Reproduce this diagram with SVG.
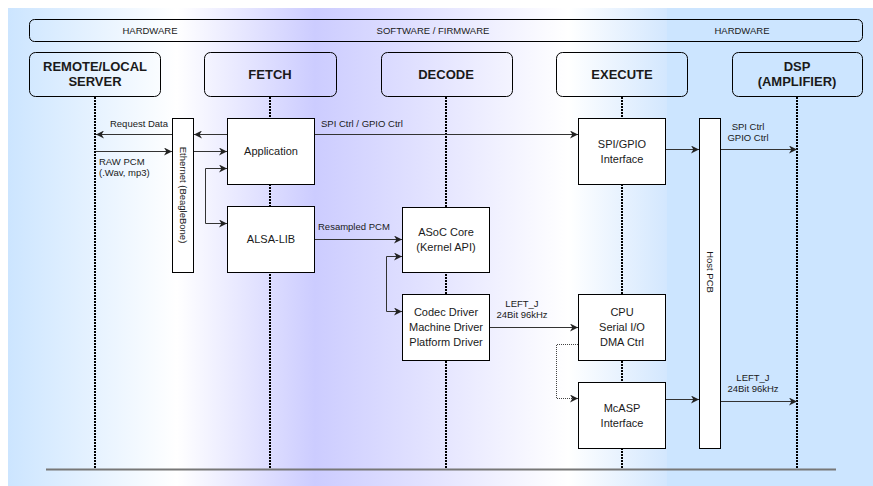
<svg xmlns="http://www.w3.org/2000/svg" width="873" height="486" viewBox="0 0 873 486">
<style>
.hdr{fill:none;stroke:#000;stroke-width:1}
.box{fill:#fff;stroke:#000;stroke-width:1}
.life{stroke:#000;stroke-width:2;stroke-dasharray:2 1;fill:none}
.ln{stroke:#333;stroke-width:1;fill:none}
.dot{stroke:#444;stroke-width:1;stroke-dasharray:1 1;fill:none}
text{font-family:"Liberation Sans",Arial,sans-serif;fill:#1a1a1a;text-anchor:middle}
.t13{font-size:13px;font-weight:bold}
.t11{font-size:11px}
.t95{font-size:9.5px}
.l{text-anchor:start}
</style>
<defs>
<linearGradient id="g1" x1="0" y1="0" x2="1" y2="0">
<stop offset="0" stop-color="#cce5ff"/>
<stop offset="0.55" stop-color="#ffffff"/>
<stop offset="1" stop-color="#ccccff"/>
</linearGradient>
<linearGradient id="g2" x1="0" y1="0" x2="1" y2="0">
<stop offset="0" stop-color="#ccccff"/>
<stop offset="0.72" stop-color="#ffffff"/>
<stop offset="1" stop-color="#d3e7fe"/>
</linearGradient>
<marker id="ar" viewBox="0 0 10 10" refX="10" refY="5" markerWidth="9" markerHeight="8" markerUnits="userSpaceOnUse" orient="auto-start-reverse">
<path d="M0,0 L10,5 L0,10 L3,5 z" fill="#222"/>
</marker>
</defs>
<g id="background">
<rect x="8" y="8" width="307" height="478" fill="url(#g1)"/>
<rect x="315" y="8" width="352" height="478" fill="url(#g2)"/>
<rect x="667" y="8" width="206" height="478" fill="#cce5ff"/>
</g>
<g id="topbar">
<rect class="hdr" x="29.5" y="19.5" width="833" height="22" rx="5"/>
<text class="t95" x="150" y="34">HARDWARE</text>
<text class="t95" x="433" y="34">SOFTWARE / FIRMWARE</text>
<text class="t95" x="742" y="34">HARDWARE</text>
</g>
<g id="lifelines">
<line class="life" x1="95" y1="97" x2="95" y2="468"/>
<line class="life" x1="270" y1="97" x2="270" y2="468"/>
<line class="life" x1="446" y1="97" x2="446" y2="468"/>
<line class="life" x1="622" y1="97" x2="622" y2="468"/>
<line class="life" x1="797" y1="97" x2="797" y2="468"/>
<line x1="46" y1="469.5" x2="836" y2="469.5" stroke="#777" stroke-width="2"/>
</g>
<g id="hdr-server">
<rect class="hdr" x="29.5" y="52.5" width="131" height="44" rx="6"/>
<text class="t13" x="95" y="71">REMOTE/LOCAL</text>
<text class="t13" x="95" y="86">SERVER</text>
</g>
<g id="hdr-fetch">
<rect class="hdr" x="204.5" y="52.5" width="132" height="44" rx="6"/>
<text class="t13" x="270" y="79">FETCH</text>
</g>
<g id="hdr-decode">
<rect class="hdr" x="381.5" y="52.5" width="131" height="44" rx="6"/>
<text class="t13" x="446" y="79">DECODE</text>
</g>
<g id="hdr-execute">
<rect class="hdr" x="556.5" y="52.5" width="131" height="44" rx="6"/>
<text class="t13" x="622" y="79">EXECUTE</text>
</g>
<g id="hdr-dsp">
<rect class="hdr" x="732.5" y="52.5" width="130" height="44" rx="6"/>
<text class="t13" x="797" y="71">DSP</text>
<text class="t13" x="797" y="86">(AMPLIFIER)</text>
</g>
<g id="ethernet">
<rect class="box" x="172.5" y="118.5" width="21" height="154"/>
<text class="t95" transform="translate(180,195) rotate(90)">Ethernet (BeagleBone)</text>
</g>
<g id="application">
<rect class="box" x="227.5" y="118.5" width="87" height="66"/>
<text class="t11" x="271" y="155">Application</text>
</g>
<g id="alsa-lib">
<rect class="box" x="227.5" y="206.5" width="87" height="66"/>
<text class="t11" x="271" y="243">ALSA-LIB</text>
</g>
<g id="asoc-core">
<rect class="box" x="402.5" y="207.5" width="87" height="65"/>
<text class="t11" x="446" y="236">ASoC Core</text>
<text class="t11" x="446" y="251">(Kernel API)</text>
</g>
<g id="drivers">
<rect class="box" x="402.5" y="294.5" width="87" height="66"/>
<text class="t11" x="446" y="316">Codec Driver</text>
<text class="t11" x="446" y="331">Machine Driver</text>
<text class="t11" x="446" y="346">Platform Driver</text>
</g>
<g id="spi-gpio">
<rect class="box" x="578.5" y="118.5" width="87" height="66"/>
<text class="t11" x="622" y="148">SPI/GPIO</text>
<text class="t11" x="622" y="163">Interface</text>
</g>
<g id="cpu">
<rect class="box" x="578.5" y="294.5" width="87" height="66"/>
<text class="t11" x="622" y="316">CPU</text>
<text class="t11" x="622" y="331">Serial I/O</text>
<text class="t11" x="622" y="346">DMA Ctrl</text>
</g>
<g id="mcasp">
<rect class="box" x="578.5" y="382.5" width="87" height="66"/>
<text class="t11" x="622" y="412">McASP</text>
<text class="t11" x="622" y="427">Interface</text>
</g>
<g id="host-pcb">
<rect class="box" x="699.5" y="118.5" width="21" height="330"/>
<text class="t95" transform="translate(707,272) rotate(90)">Host PCB</text>
</g>
<g id="connectors">
<line class="ln" x1="172" y1="134.5" x2="96" y2="134.5" marker-end="url(#ar)"/>
<line class="ln" x1="227" y1="134.5" x2="194" y2="134.5" marker-end="url(#ar)"/>
<line class="ln" x1="96" y1="151.5" x2="172" y2="151.5" marker-end="url(#ar)"/>
<line class="ln" x1="194" y1="151.5" x2="227" y2="151.5" marker-end="url(#ar)"/>
<polyline class="ln" points="227,168.5 205.5,168.5 205.5,223.5 227,223.5" marker-start="url(#ar)" marker-end="url(#ar)"/>
<line class="ln" x1="315" y1="134.5" x2="578" y2="134.5" marker-end="url(#ar)"/>
<line class="ln" x1="315" y1="239.5" x2="402" y2="239.5" marker-end="url(#ar)"/>
<polyline class="ln" points="402,256.5 386.5,256.5 386.5,311.5 402,311.5" marker-start="url(#ar)" marker-end="url(#ar)"/>
<line class="ln" x1="490" y1="327.5" x2="578" y2="327.5" marker-end="url(#ar)"/>
<polyline class="dot" points="578,344.5 556.5,344.5 556.5,398.5 578,398.5" marker-end="url(#ar)"/>
<line class="ln" x1="666" y1="149.5" x2="699" y2="149.5" marker-end="url(#ar)"/>
<line class="ln" x1="721" y1="149.5" x2="797" y2="149.5" marker-end="url(#ar)"/>
<line class="ln" x1="666" y1="399.5" x2="699" y2="399.5" marker-end="url(#ar)"/>
<line class="ln" x1="721" y1="401.5" x2="797" y2="401.5" marker-end="url(#ar)"/>
<text class="t95" x="139" y="127">Request Data</text>
<text class="t95 l" x="99" y="165">RAW PCM</text>
<text class="t95 l" x="99" y="176">(.Wav, mp3)</text>
<text class="t95 l" x="321" y="127">SPI Ctrl / GPIO Ctrl</text>
<text class="t95 l" x="318" y="230">Resampled PCM</text>
<text class="t95" x="522" y="307">LEFT_J</text>
<text class="t95" x="522" y="318">24Bit 96kHz</text>
<text class="t95" x="748" y="130">SPI Ctrl</text>
<text class="t95" x="748" y="141">GPIO Ctrl</text>
<text class="t95" x="753" y="381">LEFT_J</text>
<text class="t95" x="753" y="392">24Bit 96kHz</text>
</g>
</svg>
